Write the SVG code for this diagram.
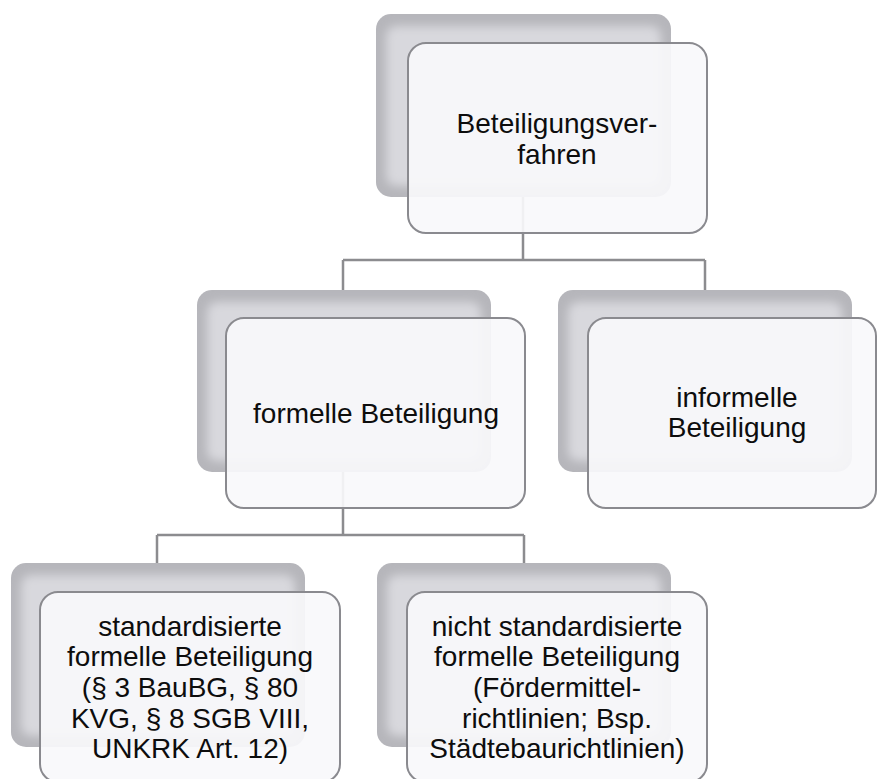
<svg xmlns="http://www.w3.org/2000/svg" width="877" height="779" viewBox="0 0 877 779">
<style>
.back{fill:#b6b6bb;}
.backin{fill:#d8d8dd;filter:url(#blur);}
.front{fill:#f9f8fb;fill-opacity:0.92;stroke:#8a8a8f;stroke-width:2;}
.conn{fill:none;stroke:#8c8c8f;stroke-width:2.5;}
text{font-family:"Liberation Sans",Arial,sans-serif;font-size:28px;fill:#0d0d0d;text-anchor:middle;}
</style>
<defs>
<filter id="blur" x="-10%" y="-10%" width="120%" height="120%"><feGaussianBlur stdDeviation="5"/></filter>
</defs>
<rect width="877" height="779" fill="#ffffff"/>
<g id="connectors">
<path class="conn" d="M523,197 V260 M343,260 H705 M343,260 V290 M705,260 V290"/>
<path class="conn" d="M343,472 V535 M157,535 H524 M157,535 V563 M524,535 V563"/>
</g>
<g id="n-beteiligungsverfahren">
<rect x="376" y="14" width="295" height="183" rx="15" class="back"/>
<rect x="386" y="26" width="275" height="160" rx="10" class="backin"/>
<rect x="408" y="43" width="299" height="190" rx="18" class="front"/>
<text x="557" y="133">Beteiligungsver-</text>
<text x="557" y="164">fahren</text>
</g>
<g id="n-formelle">
<rect x="197" y="290" width="294" height="182" rx="15" class="back"/>
<rect x="207" y="302" width="274" height="159" rx="10" class="backin"/>
<rect x="226" y="318" width="299" height="190" rx="18" class="front"/>
<text x="376" y="423">formelle Beteiligung</text>
</g>
<g id="n-informelle">
<rect x="558" y="290" width="294" height="182" rx="15" class="back"/>
<rect x="568" y="302" width="274" height="159" rx="10" class="backin"/>
<rect x="588" y="318" width="288" height="190" rx="18" class="front"/>
<text x="737" y="407">informelle</text>
<text x="737" y="437">Beteiligung</text>
</g>
<g id="n-standardisiert">
<rect x="11" y="563" width="294" height="184" rx="15" class="back"/>
<rect x="21" y="575" width="274" height="161" rx="10" class="backin"/>
<rect x="40" y="592" width="300" height="190" rx="18" class="front"/>
<text x="190" y="636">standardisierte</text>
<text x="190" y="666">formelle Beteiligung</text>
<text x="190" y="697">(§ 3 BauBG, § 80</text>
<text x="190" y="728">KVG, § 8 SGB VIII,</text>
<text x="190" y="758">UNKRK Art. 12)</text>
</g>
<g id="n-nicht-standardisiert">
<rect x="377" y="563" width="294" height="184" rx="15" class="back"/>
<rect x="387" y="575" width="274" height="161" rx="10" class="backin"/>
<rect x="407" y="592" width="300" height="190" rx="18" class="front"/>
<text x="557" y="636">nicht standardisierte</text>
<text x="557" y="666">formelle Beteiligung</text>
<text x="557" y="697">(Fördermittel-</text>
<text x="557" y="728">richtlinien; Bsp.</text>
<text x="557" y="758">Städtebaurichtlinien)</text>
</g>
</svg>
